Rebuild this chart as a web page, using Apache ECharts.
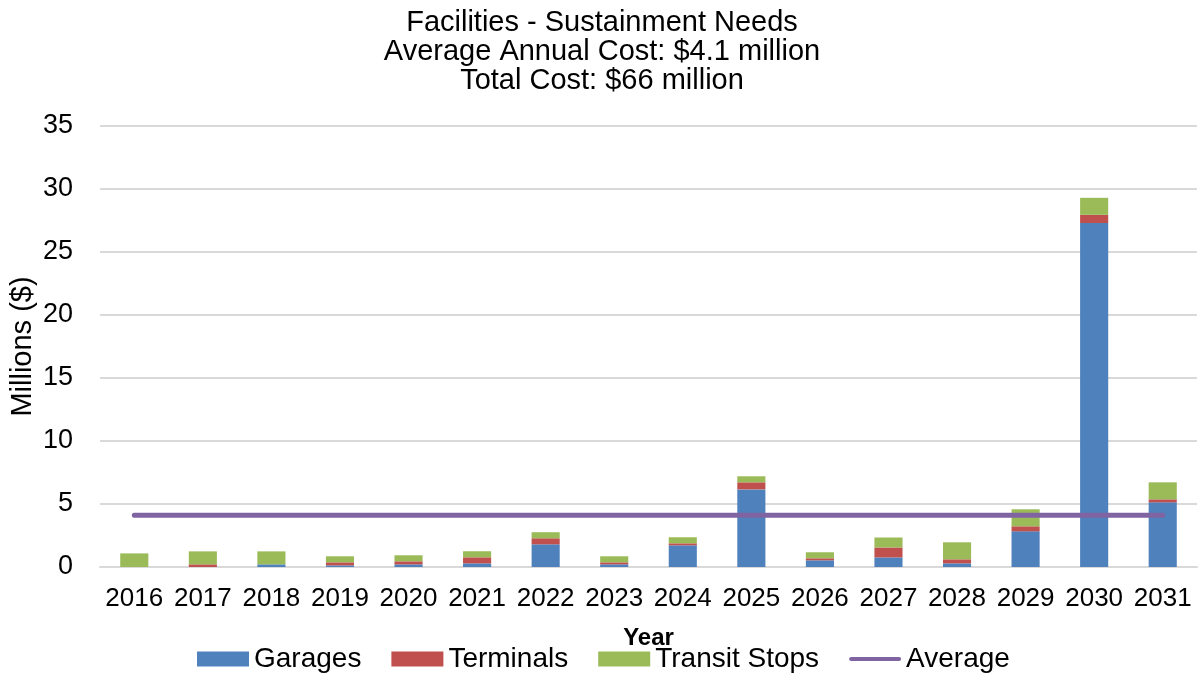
<!DOCTYPE html>
<html>
<head>
<meta charset="utf-8">
<script src="https://cdn.jsdelivr.net/npm/echarts@6/dist/echarts.min.js"></script>
<style>
  html, body { margin: 0; padding: 0; background: #fff; }
  #chart { width: 1204px; height: 675px; }
</style>
</head>
<body>
<div id="chart"></div>
<script>
// Sustainment needs by year, in millions of dollars
const years = ['2016','2017','2018','2019','2020','2021','2022','2023','2024','2025','2026','2027','2028','2029','2030','2031'];
const garages      = [0, 0, 0.21, 0.13, 0.21, 0.29, 1.80, 0.21, 1.72, 6.16, 0.53, 0.76, 0.29, 2.83, 27.30, 5.13];
const terminals    = [0, 0.21, 0, 0.24, 0.24, 0.48, 0.48, 0.16, 0.16, 0.56, 0.16, 0.79, 0.32, 0.40, 0.65, 0.24];
const transitStops = [1.08, 1.03, 1.03, 0.48, 0.48, 0.48, 0.48, 0.48, 0.48, 0.48, 0.48, 0.79, 1.35, 1.35, 1.35, 1.35];
const average      = [4.1, 4.1, 4.1, 4.1, 4.1, 4.1, 4.1, 4.1, 4.1, 4.1, 4.1, 4.1, 4.1, 4.1, 4.1, 4.1];
const yTicks = { min: 0, max: 35, interval: 5 };

const FONT = '"Liberation Sans", Arial, sans-serif';
const chart = echarts.init(document.getElementById('chart'), null, { renderer: 'canvas' });

const barSeries = (name, data, color) => ({
  name, type: 'bar', stack: 'total', data,
  barWidth: '41%',
  itemStyle: { color },
  emphasis: { disabled: true }
});

chart.setOption({
  animation: false,
  textStyle: { fontFamily: FONT, color: '#000' },
  title: {
    text: 'Facilities - Sustainment Needs\nAverage Annual Cost: $4.1 million\nTotal Cost: $66 million',
    left: 'center', top: 3,
    textStyle: { fontFamily: FONT, fontSize: 29, fontWeight: 'normal', color: '#000', lineHeight: 29 }
  },
  legend: {
    left: 192, top: 640,
    itemWidth: 52, itemHeight: 15, itemGap: 30,
    textStyle: { fontFamily: FONT, fontSize: 28, color: '#000' },
    data: [
      { name: 'Garages', icon: 'rect' },
      { name: 'Terminals', icon: 'rect' },
      { name: 'Transit Stops', icon: 'rect' },
      { name: 'Average', icon: 'path://M2,0 H50 A2,2 0 0 1 50,4 H2 A2,2 0 0 1 2,0 Z' }
    ]
  },
  grid: { left: 100, right: 7, top: 126, bottom: 108, containLabel: false, outerBoundsMode: 'none' },
  xAxis: {
    type: 'category', data: years,
    name: 'Year', nameLocation: 'middle', nameGap: 59,
    nameTextStyle: { fontFamily: FONT, fontSize: 24, fontWeight: 'bold', color: '#000' },
    axisLine: { lineStyle: { color: '#D9D9D9', width: 2 } },
    axisTick: { show: false },
    axisLabel: { fontFamily: FONT, fontSize: 26, color: '#000', margin: 19, interval: 0 }
  },
  yAxis: {
    type: 'value', min: yTicks.min, max: yTicks.max, interval: yTicks.interval,
    name: 'Millions ($)', nameLocation: 'middle', nameGap: 63, nameRotate: 90,
    nameMoveOverlap: false,
    nameTextStyle: { fontFamily: FONT, fontSize: 29, color: '#000' },
    axisLine: { show: false },
    axisTick: { show: false },
    axisLabel: { fontFamily: FONT, fontSize: 27, color: '#000', margin: 27 },
    splitLine: { lineStyle: { color: '#D9D9D9', width: 2 } }
  },
  series: [
    barSeries('Garages', garages, '#4F81BD'),
    barSeries('Terminals', terminals, '#C0504D'),
    barSeries('Transit Stops', transitStops, '#9BBB59'),
    {
      name: 'Average', type: 'line', data: average,
      symbol: 'none', z: 5,
      lineStyle: { color: '#8064A2', width: 5, cap: 'round' },
      itemStyle: { color: '#8064A2' },
      emphasis: { disabled: true }
    }
  ]
});
</script>
</body>
</html>
